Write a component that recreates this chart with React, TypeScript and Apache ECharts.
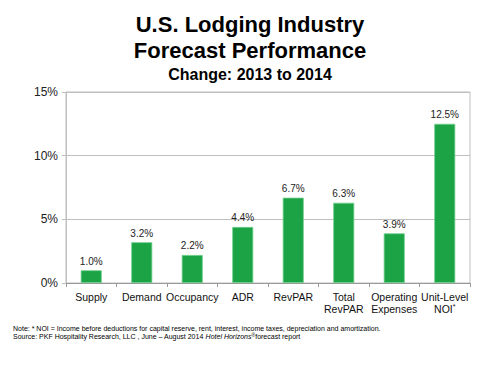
import React, { useEffect, useRef } from "react";
import * as echarts from "echarts";

const categories = ["Supply", "Demand", "Occupancy", "ADR", "RevPAR", "Total\nRevPAR", "Operating\nExpenses", "Unit-Level\nNOI*"];
const values = [1.0, 3.2, 2.2, 4.4, 6.7, 6.3, 3.9, 12.5];
const titleLines = ["U.S. Lodging Industry", "Forecast Performance"];
const subtitle = "Change: 2013 to 2014";

export default function App() {
  const ref = useRef<HTMLDivElement>(null);
  useEffect(() => {
    const chart = echarts.init(ref.current!, undefined, { renderer: "svg" });
    const ff = "Liberation Sans, Arial, sans-serif";
    chart.setOption({
      animation: false,
      backgroundColor: "#fff",
      textStyle: { fontFamily: ff },
      grid: { left: 66, right: 30, top: 92, bottom: 92, show: true, borderColor: "#bfbfbf", borderWidth: 1 },
      xAxis: {
        type: "category",
        data: categories,
        axisLine: { lineStyle: { color: "#999" } },
        axisTick: { show: true, alignWithLabel: false, length: 4, lineStyle: { color: "#999" } },
        axisLabel: {
          color: "#111",
          fontSize: 10.5,
          lineHeight: 12,
          margin: 8,
          interval: 0,
          formatter: (v: string) => v.replace("*", "{sup|*}"),
          rich: { sup: { fontSize: 7, verticalAlign: "top", color: "#111", padding: [0, 0, 4, 0] } },
        },
      },
      yAxis: {
        type: "value",
        min: 0,
        max: 15,
        interval: 5,
        axisLine: { show: true, lineStyle: { color: "#bfbfbf" } },
        axisTick: { show: true, length: 4, lineStyle: { color: "#bfbfbf" } },
        splitLine: { lineStyle: { color: "#bfbfbf" } },
        axisLabel: { color: "#222", fontSize: 12, formatter: "{value}%", margin: 8 },
      },
      series: [
        {
          type: "bar",
          data: values,
          barWidth: 21,
          itemStyle: { color: "#1ba345", borderColor: "#6fd08c", borderWidth: 0.8 },
          label: {
            show: true,
            position: "top",
            distance: 4,
            color: "#222",
            fontSize: 10,
            formatter: (p: any) => p.value.toFixed(1) + "%",
          },
        },
      ],
      graphic: [
        { type: "text", left: "center", top: 13, style: { text: titleLines[0], font: `bold 22px ${ff}`, fill: "#000" } },
        { type: "text", left: "center", top: 39, style: { text: titleLines[1], font: `bold 22px ${ff}`, fill: "#000" } },
        { type: "text", left: "center", top: 66, style: { text: subtitle, font: `bold 16px ${ff}`, fill: "#000" } },
        {
          type: "text",
          left: 13,
          top: 325,
          style: {
            text: "Note: * NOI = Income before deductions for capital reserve, rent, interest, income taxes, depreciation and amortization.",
            font: `7px ${ff}`,
            fill: "#000",
          },
        },
        {
          type: "text",
          left: 13,
          top: 332.5,
          style: {
            text: "Source: PKF Hospitality Research, LLC , June – August 2014 {i|Hotel Horizons}{s|®}forecast report",
            font: `7px ${ff}`,
            fill: "#000",
            rich: {
              i: { fontStyle: "italic", fontSize: 7, fontFamily: ff, fill: "#000" },
              s: { fontSize: 5, fontFamily: ff, verticalAlign: "top", fill: "#000" },
            },
          },
        },
      ],
    });
    return () => chart.dispose();
  }, []);
  return <div ref={ref} style={{ position: "fixed", left: 0, top: 0, width: 500, height: 375 }} />;
}
